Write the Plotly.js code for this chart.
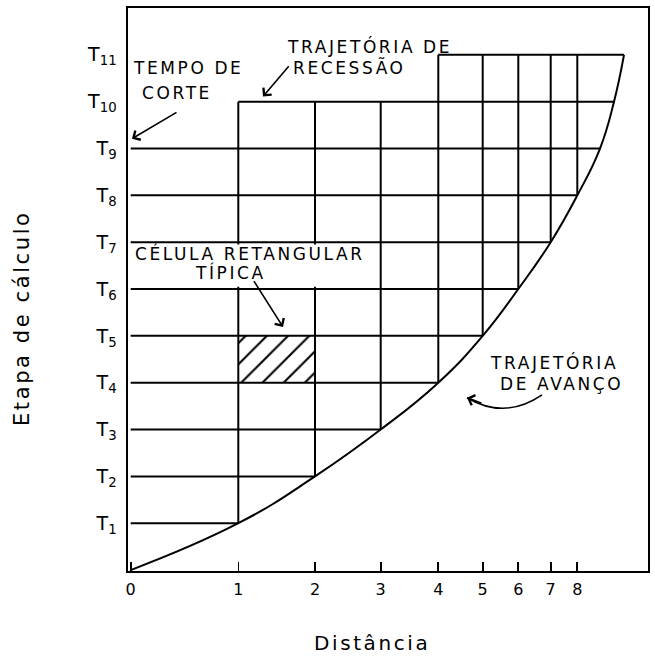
<!DOCTYPE html>
<html>
<head>
<meta charset="utf-8">
<script src="https://cdn.plot.ly/plotly-3.0.1.min.js"></script>
<style>
  html, body { margin: 0; padding: 0; background: #fff; }
  #chart { width: 655px; height: 660px; }
  .annotation-text { letter-spacing: 2.6px; }
</style>
</head>
<body>
<div id="chart"></div>
<script>
// ---- data ----
const stations = [0, 1, 2, 3, 4, 5, 6, 7, 8];
const stationDist = [0, 107.6, 184.3, 250, 307.6, 352, 387.6, 420, 446.6];
const timeSteps = [0, 1, 2, 3, 4, 5, 6, 7, 8, 9, 10, 11];
const timeLabels = ['', 'T<sub>1</sub>', 'T<sub>2</sub>', 'T<sub>3</sub>', 'T<sub>4</sub>', 'T<sub>5</sub>',
  'T<sub>6</sub>', 'T<sub>7</sub>', 'T<sub>8</sub>', 'T<sub>9</sub>', 'T<sub>10</sub>', 'T<sub>11</sub>'];
// distance reached by the advance front at each time step
const advanceDist = [0, 107.6, 184.3, 250, 307.6, 352, 387.6, 420, 446.6, 469.3, 483.3, 493.3];
// time step at which recession reaches each station
const recessionStep = [9, 10, 10, 10, 11, 11, 11, 11, 11];
// typical rectangular cell
const cellStations = [1, 2];
const cellSteps = [4, 5];

// ---- build grid ----
const gx = [], gy = [];
// horizontal lines
for (let k = 1; k < timeSteps.length; k++) {
  let j0 = 0;
  while (j0 < stations.length && recessionStep[j0] < timeSteps[k]) j0++;
  gx.push(stationDist[j0], advanceDist[k], null);
  gy.push(timeSteps[k], timeSteps[k], null);
}
// vertical lines
for (let j = 1; j < stations.length; j++) {
  gx.push(stationDist[j], stationDist[j], null);
  gy.push(timeSteps[j], recessionStep[j], null);
}

const cx = [stationDist[cellStations[0]], stationDist[cellStations[1]], stationDist[cellStations[1]], stationDist[cellStations[0]], stationDist[cellStations[0]]];
const cy = [cellSteps[0], cellSteps[0], cellSteps[1], cellSteps[1], cellSteps[0]];

const traces = [
  { x: cx, y: cy, mode: 'none', fill: 'toself', fillcolor: 'rgba(0,0,0,0)',
    fillpattern: { shape: '/', fgcolor: '#000', bgcolor: '#fff', size: 15, solidity: 0.14 },
    hoverinfo: 'skip', showlegend: false },
  { x: gx, y: gy, mode: 'lines', line: { color: '#000', width: 2 },
    hoverinfo: 'skip', showlegend: false, connectgaps: false },
  { x: advanceDist, y: timeSteps, mode: 'lines', line: { color: '#000', width: 2, shape: 'spline', smoothing: 1.3 },
    hoverinfo: 'skip', showlegend: false }
];

const font = 'DejaVu Sans, Arial, sans-serif';
const lab = (text, x, y) => ({ text, x, y, xref: 'x', yref: 'y', showarrow: false,
  font: { family: font, size: 17, color: '#000' }, xanchor: 'center', yanchor: 'middle' });
const arr = (x, y, ax, ay) => ({ text: '', x, y, ax, ay, xref: 'x', yref: 'y', axref: 'x', ayref: 'y',
  showarrow: true, arrowhead: 4, arrowsize: 1.3, arrowwidth: 1.6, arrowcolor: '#000' });

const layout = {
  width: 655, height: 660,
  margin: { l: 128, r: 7, t: 8, b: 89 },
  paper_bgcolor: '#fff', plot_bgcolor: '#fff',
  font: { family: font, color: '#000' },
  showlegend: false,
  xaxis: {
    range: [-2.7, 517.3], tickmode: 'array', tickvals: stationDist, ticktext: stations.map(String),
    ticks: 'inside', ticklen: 9, tickwidth: 1.6, tickcolor: '#000',
    showline: true, mirror: true, linecolor: '#000', linewidth: 1.6,
    showgrid: false, zeroline: false, tickfont: { size: 16, family: font }, ticklabelstandoff: 3,
    title: { text: '' }
  },
  yaxis: {
    range: [-0.02, 12.0], tickmode: 'array', tickvals: timeSteps.slice(1), ticktext: timeLabels.slice(1),
    ticks: '', showline: true, mirror: true, linecolor: '#000', linewidth: 1.6,
    showgrid: false, zeroline: false, tickfont: { size: 19, family: font }, ticklabelstandoff: 6,
    title: { text: '' }
  },
  shapes: [
    { type: 'rect', xref: 'x', yref: 'y', x0: 1.5, x1: 245, y0: 6.05, y1: 6.95,
      fillcolor: '#fff', line: { width: 0 }, layer: 'above' },
    { type: 'path', xref: 'x', yref: 'y', path: 'M 411.3,3.74 Q 374.3,3.2 336.3,3.68',
      line: { color: '#000', width: 1.6 }, layer: 'above' }
  ],
  annotations: [
    lab('TEMPO DE', 57.3, 10.71),
    lab('CORTE', 46.3, 10.19),
    lab('TRAJETÓRIA DE', 238.3, 11.18),
    lab('RECESSÃO', 218.3, 10.73),
    lab('CÉLULA RETANGULAR', 119.3, 6.76),
    lab('TÍPICA', 99.3, 6.36),
    lab('TRAJETÓRIA', 423.3, 4.44),
    lab('DE AVANÇO', 430.3, 3.97),
    arr(1.3, 9.21, 47.3, 9.79),
    arr(132.3, 10.11, 159.3, 10.79),
    arr(152.3, 5.19, 122.3, 6.20),
    { text: '', x: 336.3, y: 3.68, xref: 'x', yref: 'y', ax: 16, ay: 6, showarrow: true,
      arrowhead: 4, arrowsize: 1.3, arrowwidth: 1.6, arrowcolor: '#000' },
    // axis titles
    { text: 'Distância', xref: 'paper', yref: 'paper', x: (372 - 128) / 520, y: -(643 - 571) / 563,
      xanchor: 'center', yanchor: 'middle', showarrow: false,
      font: { family: font, size: 20, color: '#000' } },
    { text: 'Etapa de cálculo', xref: 'paper', yref: 'paper', x: (22 - 128) / 520, y: (571 - 318) / 563,
      xanchor: 'center', yanchor: 'middle', showarrow: false, textangle: -90,
      font: { family: font, size: 21, color: '#000' } }
  ]
};

Plotly.newPlot('chart', traces, layout, { displayModeBar: false, staticPlot: true });
</script>
</body>
</html>
